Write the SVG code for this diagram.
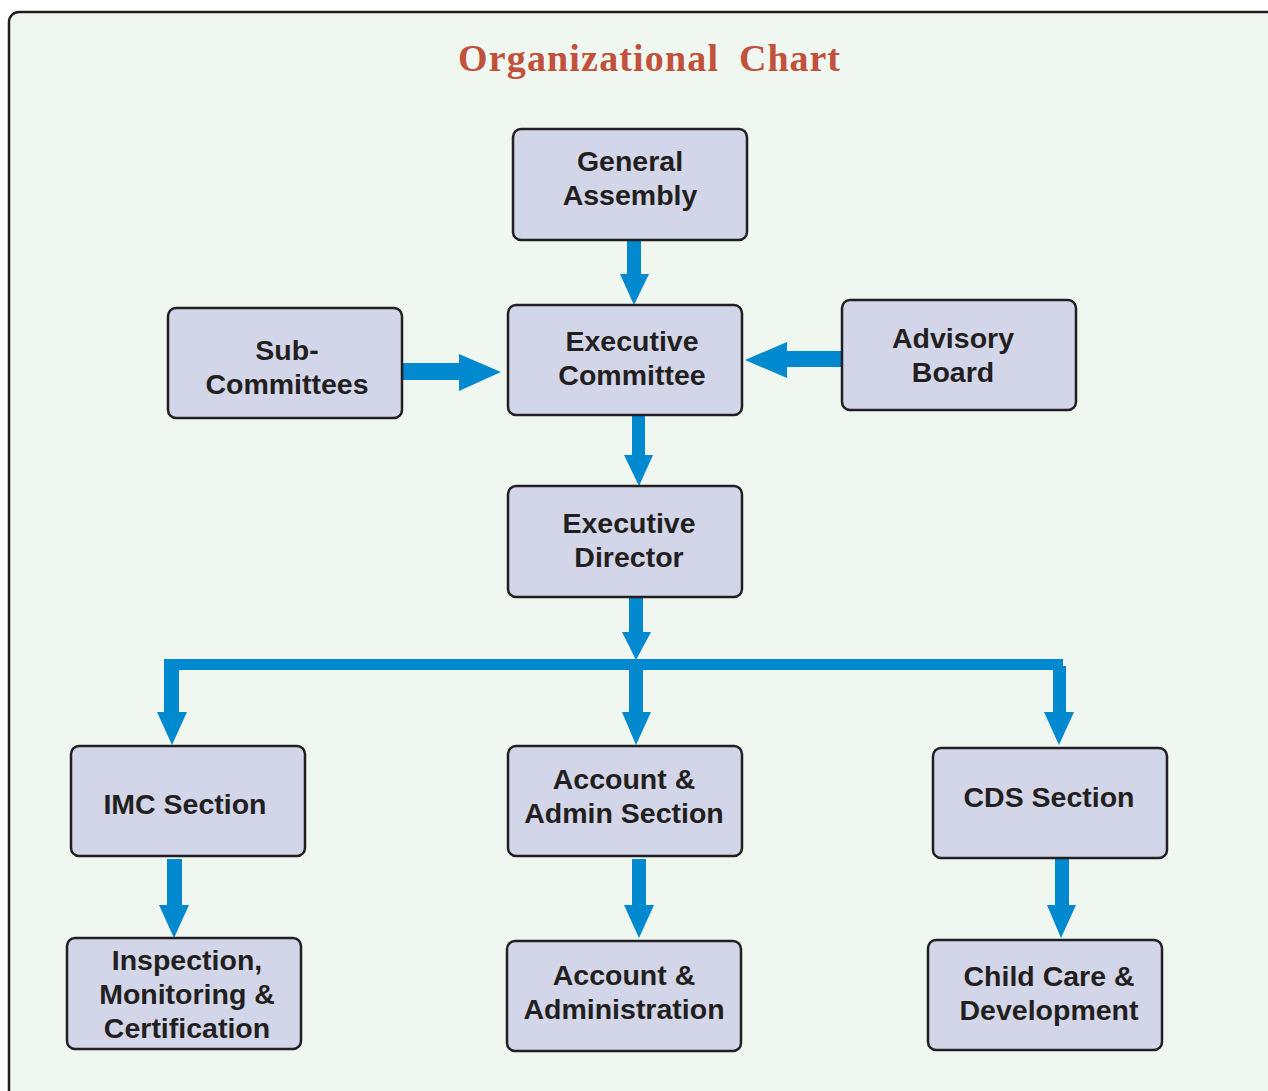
<svg xmlns="http://www.w3.org/2000/svg" width="1268" height="1091" viewBox="0 0 1268 1091">
<style>
.frame{fill:#f0f7f0;stroke:#231f20;stroke-width:2.5}
.box{fill:#d3d6e8;stroke:#231f20;stroke-width:2.5}
.lbl{font-family:"Liberation Sans",Arial,sans-serif;font-weight:bold;font-size:28.5px;fill:#231f20;text-anchor:middle}
.title{font-family:"Liberation Serif","Times New Roman",serif;font-weight:bold;font-size:38px;fill:#c0513b}
.arr{fill:#0089cf}
</style>
<rect width="1268" height="1091" fill="#ffffff"/>
<rect class="frame" x="9" y="12" width="1300" height="1120" rx="10"/>
<text class="title" x="458" y="71" textLength="260" lengthAdjust="spacing">Organizational</text>
<text class="title" x="739" y="71" textLength="101" lengthAdjust="spacing">Chart</text>
<g id="connectors">
<polygon class="arr" points="627,240 641,240 641,274 649,274 634,305 620,274 627,274"/>
<polygon class="arr" points="402,363 459,363 459,354 501,372 459,391 459,380 402,380"/>
<polygon class="arr" points="842,351 787,351 787,342 745,360 787,378 787,367 842,367"/>
<polygon class="arr" points="632,416 645,416 645,455 653,455 639,486 624,455 632,455"/>
<polygon class="arr" points="629,597 643,597 643,632 651,632 636,660 622,632 629,632"/>
<rect class="arr" x="164" y="659" width="899" height="11"/>
<polygon class="arr" points="164,666 179,666 179,712 187,712 172,745 157,712 164,712"/>
<polygon class="arr" points="629,666 643,666 643,712 651,712 636,745 622,712 629,712"/>
<polygon class="arr" points="1053,666 1066,666 1066,712 1074,712 1059,745 1044,712 1053,712"/>
<polygon class="arr" points="167,859 182,859 182,905 189,905 174,938 159,905 167,905"/>
<polygon class="arr" points="632,859 646,859 646,905 654,905 639,938 624,905 632,905"/>
<polygon class="arr" points="1055,859 1069,859 1069,905 1076,905 1061,938 1047,905 1055,905"/>
</g>
<g id="general-assembly"><rect class="box" x="513" y="129" width="234" height="111" rx="8"/><text class="lbl" x="630" y="171">General</text><text class="lbl" x="630" y="205">Assembly</text></g>
<g id="executive-committee"><rect class="box" x="508" y="305" width="234" height="110" rx="8"/><text class="lbl" x="632" y="351">Executive</text><text class="lbl" x="632" y="385">Committee</text></g>
<g id="sub-committees"><rect class="box" x="168" y="308" width="234" height="110" rx="8"/><text class="lbl" x="287" y="360">Sub-</text><text class="lbl" x="287" y="394">Committees</text></g>
<g id="advisory-board"><rect class="box" x="842" y="300" width="234" height="110" rx="8"/><text class="lbl" x="953" y="348">Advisory</text><text class="lbl" x="953" y="382">Board</text></g>
<g id="executive-director"><rect class="box" x="508" y="486" width="234" height="111" rx="8"/><text class="lbl" x="629" y="533">Executive</text><text class="lbl" x="629" y="567">Director</text></g>
<g id="imc-section"><rect class="box" x="71" y="746" width="234" height="110" rx="8"/><text class="lbl" x="185" y="814">IMC Section</text></g>
<g id="account-admin-section"><rect class="box" x="508" y="746" width="234" height="110" rx="8"/><text class="lbl" x="624" y="789">Account &amp;</text><text class="lbl" x="624" y="823">Admin Section</text></g>
<g id="cds-section"><rect class="box" x="933" y="748" width="234" height="110" rx="8"/><text class="lbl" x="1049" y="807">CDS Section</text></g>
<g id="inspection"><rect class="box" x="67" y="938" width="234" height="111" rx="8"/><text class="lbl" x="187" y="970">Inspection,</text><text class="lbl" x="187" y="1004">Monitoring &amp;</text><text class="lbl" x="187" y="1038">Certification</text></g>
<g id="account-administration"><rect class="box" x="507" y="941" width="234" height="110" rx="8"/><text class="lbl" x="624" y="985">Account &amp;</text><text class="lbl" x="624" y="1019">Administration</text></g>
<g id="child-care"><rect class="box" x="928" y="940" width="234" height="110" rx="8"/><text class="lbl" x="1049" y="986">Child Care &amp;</text><text class="lbl" x="1049" y="1020">Development</text></g>
</svg>
